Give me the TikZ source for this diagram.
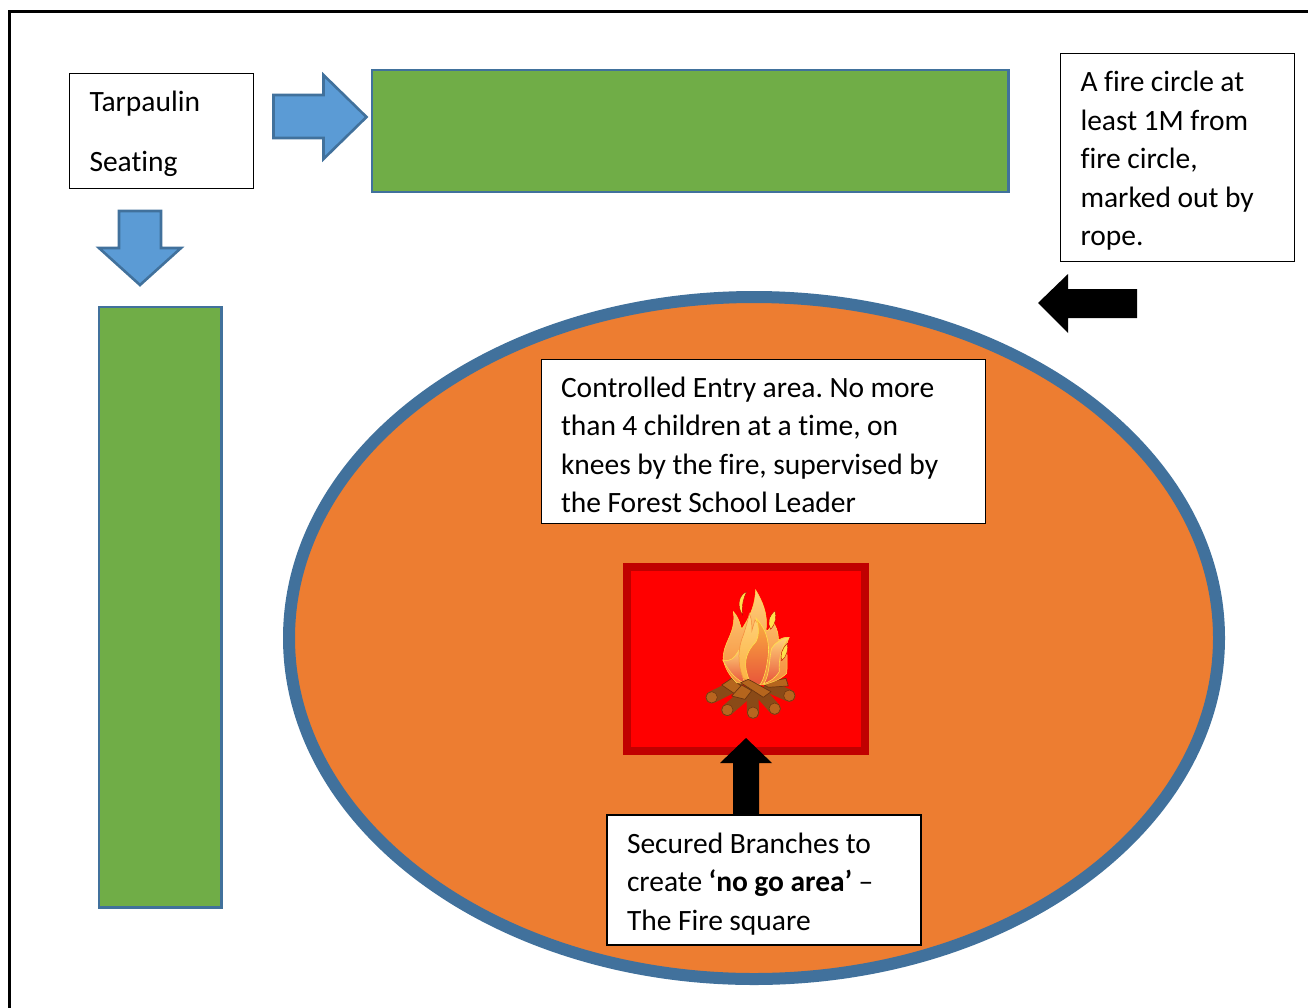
\documentclass[tikz,border=0pt]{standalone}
\usepackage{fontspec}
\setmainfont{Carlito}[Ligatures=NoCommon]
\frenchspacing
\newcommand{\narrowspaces}{\setlength{\spaceskip}{6.5pt}}
\tikzset{
  px/.style={x=1pt,y=-1pt},
  textbox/.style={draw=black,fill=white,line width=1pt,anchor=north west,align=left,inner xsep=20pt,inner ysep=0pt,outer sep=0pt,font=\fontsize{29.5}{38.5}\selectfont,execute at begin node=\narrowspaces},
  bluearrow/.style={draw=arrowedge,fill=arrowblue,line width=2.6pt,miter limit=10},
  blackarrow/.style={fill=black},
  seat/.style={draw=edgeblue,fill=seatgreen,line width=2.6pt},
  logline/.style={line cap=round,line width=12pt,draw=logbrown},
  plank/.style={draw=logdark,fill=planktan,line width=.7pt,line join=round}
}
\definecolor{arrowblue}{HTML}{5B9BD5}
\definecolor{arrowedge}{HTML}{41719C}
\definecolor{edgeblue}{HTML}{41719C}
\definecolor{seatgreen}{HTML}{70AD47}
\definecolor{groundorange}{HTML}{ED7D31}
\definecolor{firedark}{HTML}{C00000}
\definecolor{logbrown}{HTML}{8A4A17}
\definecolor{logdark}{HTML}{6B3510}
\definecolor{planktan}{HTML}{B5651D}
\definecolor{logend}{HTML}{B8651F}
\definecolor{flameback}{HTML}{FBB040}
\definecolor{flamelight}{HTML}{FFD27A}
\definecolor{flamemid}{HTML}{F58A3C}
\definecolor{flamered}{HTML}{E8553A}
\definecolor{flameyellow}{HTML}{FFE14D}
\begin{document}
\begin{tikzpicture}[px]
\useasboundingbox (0,0) rectangle (1308,1007);
% frame
\draw[line width=2.6pt] (9.5,1010) -- (9.5,11.5) -- (1312,11.5);
% seating
\draw[seat] (372,70) rectangle (1008.5,192);
\draw[seat] (99,307) rectangle (221.5,907.5);
\draw[bluearrow] (273.5,95) -- (323.5,95) -- (323.5,75) -- (366.5,117) -- (323.5,159) -- (323.5,138) -- (273.5,138) -- cycle;
\draw[bluearrow] (119,211) -- (161,211) -- (161,248) -- (181,248) -- (140,285) -- (99,248) -- (119,248) -- cycle;
% ground
\draw[draw=edgeblue,fill=groundorange,line width=12pt] (754,638) ellipse [x radius=465,y radius=341];
% fire square
\draw[draw=firedark,fill=red,line width=8pt] (627,567) rectangle (865,751);
% campfire
\begin{scope}[shift={(680,570)},x=0.3333pt,y=-0.3333pt]
  \draw[logline] (95,382) -- (170,345);
  \draw[logline] (142,420) -- (205,365);
  \draw[logline] (219,428) -- (217,365);
  \draw[logline] (284,416) -- (245,372);
  \draw[logline] (328,377) -- (270,352);
  \foreach \p in {(95,382),(142,420),(219,428),(284,416),(328,377)}
    \filldraw[fill=logend,draw=logdark,line width=.5pt] \p circle (17);
  \path[plank] (125,345) -- (155,325) -- (195,358) -- (165,372) -- cycle;
  \path[plank] (155,378) -- (185,345) -- (215,362) -- (195,388) -- cycle;
  \path[plank] (245,340) -- (318,325) -- (325,348) -- (265,352) -- cycle;
  % back flame
  \path[top color=flamelight,bottom color=flamemid,draw=flameyellow,line width=.5pt]
    (130,270) .. controls (125,220) and (170,190) .. (160,125)
    .. controls (185,150) and (180,190) .. (190,170)
    .. controls (215,130) and (225,100) .. (227,60)
    .. controls (245,90) and (265,130) .. (258,180)
    .. controls (265,190) and (270,165) .. (282,160)
    .. controls (295,185) and (295,195) .. (295,210)
    .. controls (305,205) and (315,200) .. (327,203)
    .. controls (315,225) and (325,270) .. (320,310)
    .. controls (300,330) and (280,335) .. (250,345)
    .. controls (220,345) and (190,340) .. (170,338)
    .. controls (150,320) and (135,295) .. (130,270) -- cycle;
  % left-hand tongue
  \path[top color=flamelight,bottom color=flamered,draw=flameyellow,line width=.5pt]
    (128,270) .. controls (150,310) and (170,330) .. (195,340)
    .. controls (180,300) and (175,270) .. (180,235)
    .. controls (160,270) and (150,275) .. (128,270) -- cycle;
  % middle tongue
  \path[top color=flamelight,bottom color=flameback,draw=flamemid,line width=.5pt]
    (190,325) .. controls (170,280) and (175,230) .. (190,195)
    .. controls (200,165) and (205,145) .. (208,130)
    .. controls (225,170) and (205,215) .. (225,150)
    .. controls (255,185) and (270,215) .. (265,265)
    .. controls (260,300) and (250,330) .. (240,345)
    .. controls (225,340) and (205,335) .. (190,325) -- cycle;
  % right red tongue
  \path[top color=flameback,bottom color=flamered,draw=flameyellow,line width=.6pt]
    (210,335) .. controls (190,290) and (190,255) .. (228,215)
    .. controls (240,190) and (235,165) .. (228,145)
    .. controls (262,180) and (272,225) .. (262,275)
    .. controls (258,305) and (250,330) .. (240,345) -- cycle;
  \path[top color=flamelight,bottom color=flamered,draw=flameyellow,line width=.6pt]
    (250,342) .. controls (270,320) and (268,255) .. (275,235)
    .. controls (285,218) and (305,205) .. (327,203)
    .. controls (305,225) and (295,270) .. (298,305)
    .. controls (285,325) and (270,335) .. (250,342) -- cycle;
  % small tips
  \path[fill=flameyellow,draw=firedark,line width=.4pt]
    (200,65) .. controls (175,75) and (170,110) .. (188,135)
    .. controls (185,105) and (190,85) .. (200,65) -- cycle;
  \path[fill=flameyellow,draw=firedark,line width=.4pt]
    (285,122) .. controls (265,140) and (262,160) .. (272,178)
    .. controls (288,160) and (290,140) .. (285,122) -- cycle;
  \path[fill=flameyellow,draw=firedark,line width=.4pt]
    (323,220) .. controls (305,235) and (300,255) .. (305,272)
    .. controls (320,260) and (325,240) .. (323,220) -- cycle;
  % top plank
  \path[plank] (182,338) -- (205,328) -- (273,365) -- (250,382) -- cycle;
\end{scope}
% pointers
\path[blackarrow] (1038,303) -- (1068,274) -- (1068,289) -- (1137,289) -- (1137,318) -- (1068,318) -- (1068,333) -- cycle;
\path[blackarrow] (746,738) -- (772,763) -- (759,763) -- (759,816) -- (733,816) -- (733,763) -- (720,763) -- cycle;
% text boxes
\node[textbox,minimum width=184pt,minimum height=115pt,text width=144pt] (tarp) at (69.5,73) {\rule{0pt}{28pt}Tarpaulin\\[21.5pt]Seating};
\node[textbox,minimum width=234pt,minimum height=208pt,text width=194pt] (circle) at (1060.5,53) {\rule{0pt}{28pt}A fire circle at\\least 1M from\\fire circle,\\marked out by\\rope.};
\node[textbox,minimum width=444pt,minimum height=164pt,text width=404pt] (entry) at (541,359) {\rule{0pt}{28pt}Controlled Entry area. No more\\than 4 children at a time, on\\knees by the fire, supervised by\\the Forest School Leader};
\node[textbox,line width=2pt,minimum width=314pt,minimum height=130pt,text width=274pt] (branches) at (607,815) {\rule{0pt}{28pt}Secured Branches to\\create \textbf{‘no go area’} –\\The Fire square};
\end{tikzpicture}
\end{document}
